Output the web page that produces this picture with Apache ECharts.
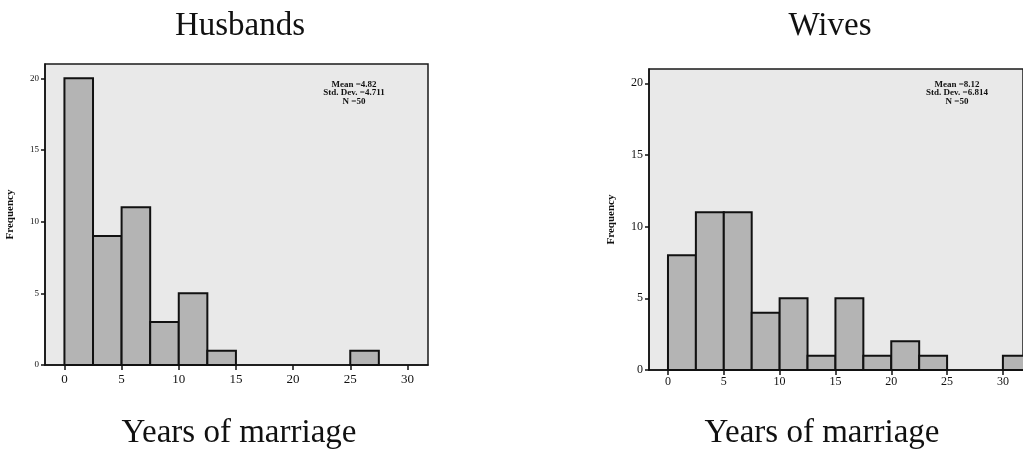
<!DOCTYPE html>
<html>
<head>
<meta charset="utf-8">
<title>Years of marriage</title>
<script src="https://cdn.jsdelivr.net/npm/echarts@6/dist/echarts.min.js"></script>
<style>
  html, body { margin: 0; padding: 0; background: #ffffff; }
  #chart { width: 1023px; height: 456px; }
</style>
</head>
<body>
<div id="chart"></div>
<script>
// Histogram bins (left edge of each 2.5-year bin)
const BIN_WIDTH = 2.5;
const binStarts = [0, 2.5, 5, 7.5, 10, 12.5, 15, 17.5, 20, 22.5, 25, 27.5, 30];
const husbandsFreq = [20, 9, 11, 3, 5, 1, 0, 0, 0, 0, 1, 0, 0];
const wivesFreq    = [8, 11, 11, 4, 5, 1, 5, 1, 2, 1, 0, 0, 1];

const xTicks = [0, 5, 10, 15, 20, 25, 30];
const yTicks = [0, 5, 10, 15, 20];

const panelTitles = ['Husbands', 'Wives'];
const xTitle = 'Years of marriage';
const yTitle = 'Frequency';
const husbandsStats = ['Mean =4.82', 'Std. Dev. =4.711', 'N =50'];
const wivesStats    = ['Mean =8.12', 'Std. Dev. =6.814', 'N =50'];

const SERIF = '"Liberation Serif", "DejaVu Serif", serif';

function histData(freq) {
  return binStarts.map((b, i) => [b, freq[i]]);
}

function renderBin(params, api) {
  const start = api.value(0);
  const count = api.value(1);
  if (!count) return null;
  const p0 = api.coord([start, 0]);
  const p1 = api.coord([start + BIN_WIDTH, count]);
  return {
    type: 'rect',
    shape: { x: p0[0], y: p1[1], width: p1[0] - p0[0], height: p0[1] - p1[1] },
    style: { fill: '#b4b4b4', stroke: '#111111', lineWidth: 2 }
  };
}

function xAxisFor(gridIndex, fontSize, margin) {
  return {
    type: 'value', gridIndex: gridIndex, min: -1.7, max: 31.8,
    axisLine: { show: true, onZero: false, lineStyle: { color: '#111111', width: 1.5 } },
    axisTick: { show: true, length: 5, customValues: xTicks, lineStyle: { color: '#111111', width: 1.5 } },
    axisLabel: { customValues: xTicks, color: '#111111', fontFamily: SERIF, fontSize: fontSize, margin: margin },
    splitLine: { show: false }
  };
}

function yAxisFor(gridIndex, fontSize, margin, nameGap) {
  return {
    type: 'value', gridIndex: gridIndex, min: 0, max: 21,
    name: yTitle, nameLocation: 'middle', nameRotate: 90, nameGap: nameGap,
    nameTextStyle: { fontFamily: SERIF, fontSize: 11, fontWeight: 'bold', color: '#111111' },
    axisLine: { show: true, onZero: false, lineStyle: { color: '#111111', width: 1.5 } },
    axisTick: { show: true, length: 4, customValues: yTicks, lineStyle: { color: '#111111', width: 1.5 } },
    axisLabel: { customValues: yTicks, color: '#111111', fontFamily: SERIF, fontSize: fontSize, margin: margin },
    splitLine: { show: false }
  };
}

function statsText(lines, cx) {
  return {
    type: 'text', x: cx, y: 80,
    style: {
      text: lines.join('\n'), fill: '#111111', font: 'bold 9px ' + SERIF,
      align: 'center', verticalAlign: 'top', lineHeight: 8.5
    }
  };
}

function bigText(str, cx, cy) {
  return {
    type: 'text', x: cx, y: cy,
    style: { text: str, fill: '#111111', font: '33px ' + SERIF, align: 'center', verticalAlign: 'middle' }
  };
}

const chart = echarts.init(document.getElementById('chart'), null, { renderer: 'canvas' });

chart.setOption({
  animation: false,
  backgroundColor: '#ffffff',
  grid: [
    { left: 45, right: 595, top: 64, bottom: 91, show: true, backgroundColor: '#e9e9e9',
      borderColor: '#1a1a1a', borderWidth: 1.5, containLabel: false },
    { left: 649, right: -31, top: 69, bottom: 86, show: true, backgroundColor: '#e9e9e9',
      borderColor: '#1a1a1a', borderWidth: 1.5, containLabel: false }
  ],
  xAxis: [xAxisFor(0, 13, 8), xAxisFor(1, 12, 6)],
  yAxis: [yAxisFor(0, 9, 6, 29), yAxisFor(1, 12, 6, 32)],
  series: [
    { name: panelTitles[0], type: 'custom', xAxisIndex: 0, yAxisIndex: 0,
      renderItem: renderBin, encode: { x: 0, y: 1 }, data: histData(husbandsFreq) },
    { name: panelTitles[1], type: 'custom', xAxisIndex: 1, yAxisIndex: 1,
      renderItem: renderBin, encode: { x: 0, y: 1 }, data: histData(wivesFreq) }
  ],
  graphic: [
    bigText(panelTitles[0], 240, 26),
    bigText(panelTitles[1], 830, 26),
    bigText(xTitle, 239, 433),
    bigText(xTitle, 822, 433),
    statsText(husbandsStats, 354),
    statsText(wivesStats, 957)
  ]
});
</script>
</body>
</html>
